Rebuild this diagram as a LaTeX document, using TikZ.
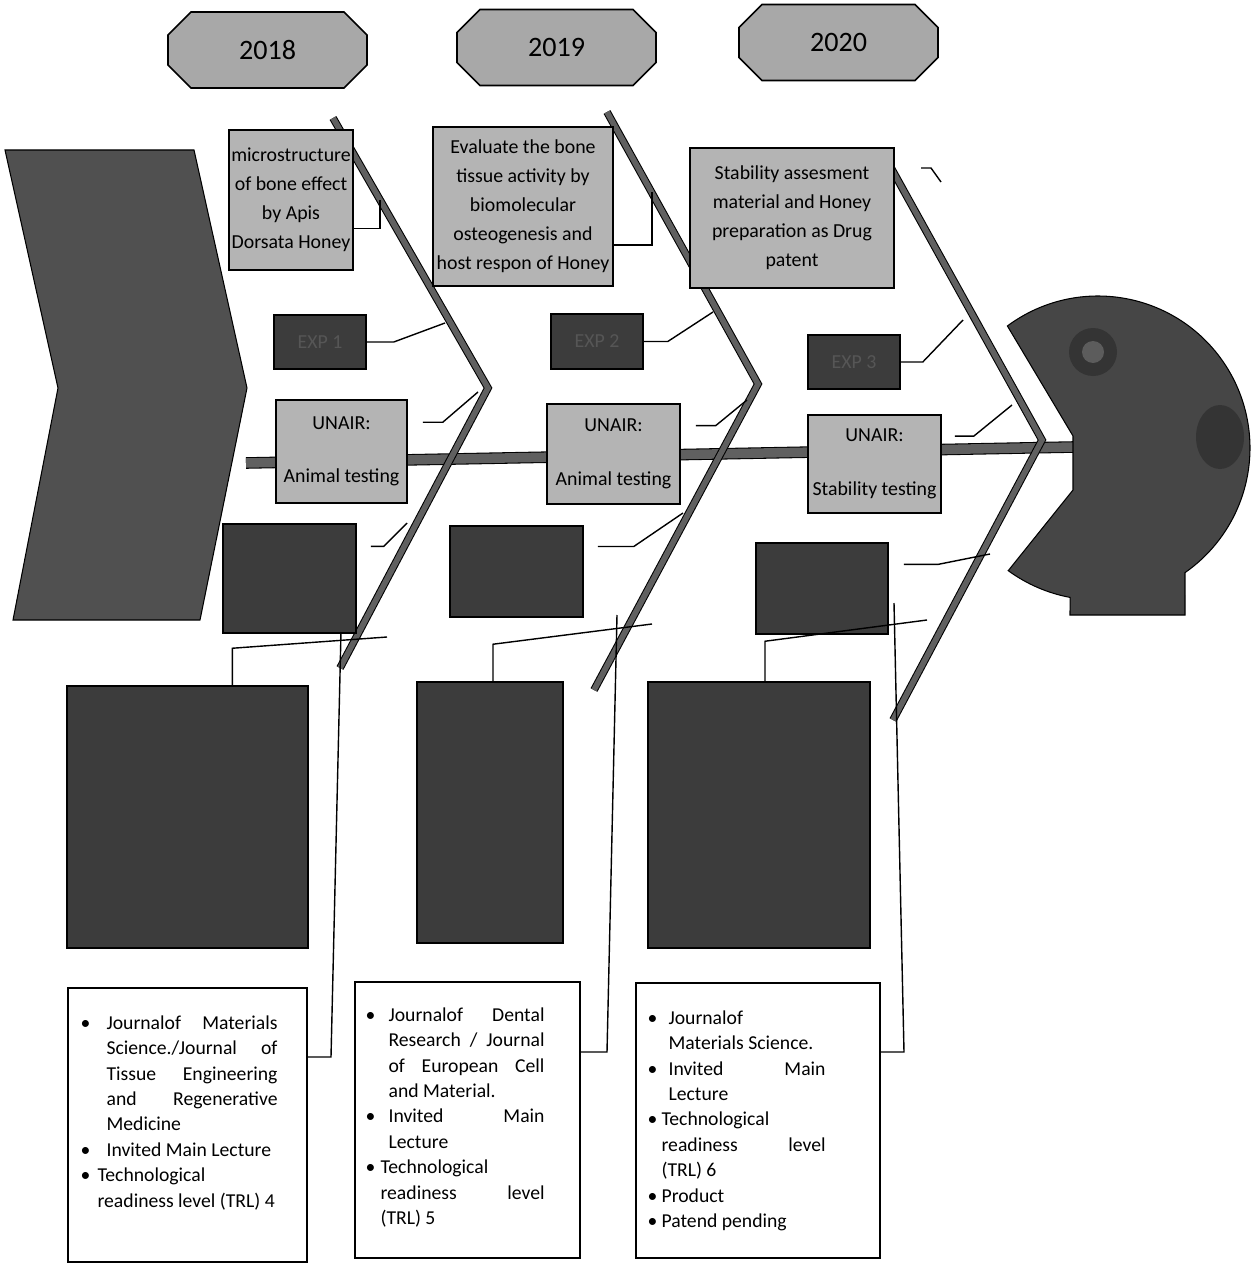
\documentclass[tikz,border=0pt]{standalone}
\usepackage{fontspec}
\setmainfont{Carlito}
\usepackage{xcolor}
\usetikzlibrary{calc}

\definecolor{yeargray}{RGB}{168,168,168}
\definecolor{boxgray}{RGB}{180,180,180}
\definecolor{darkfill}{RGB}{60,60,60}
\definecolor{darktext}{RGB}{86,86,86}
\definecolor{tailfill}{RGB}{80,80,80}
\definecolor{headfill}{RGB}{70,70,70}
\definecolor{headdark}{RGB}{52,52,52}
\definecolor{headring}{RGB}{92,92,92}
\definecolor{bonefill}{RGB}{96,96,96}

% one bullet of a result list: hanging indent, text
\newcommand{\litem}[2]{\par\noindent\hangindent=#1\hangafter=1\makebox[#1][l]{\textbullet}\ignorespaces#2}

\begin{document}
\begin{tikzpicture}[x=0.02cm, y=-0.02cm,
  yearoct/.style={fill=yeargray, draw=black, line width=0.9pt},
  yeartext/.style={inner sep=0pt, font=\fontsize{16}{19}\selectfont},
  graybox/.style={draw=black, line width=0.9pt, fill=boxgray, align=center, inner sep=1pt,
    font=\fontsize{11.3}{16.5}\selectfont},
  darkbox/.style={draw=black, line width=0.9pt, fill=darkfill, text=darktext, inner sep=1pt,
    font=\fontsize{11.3}{16.5}\selectfont},
  listbox/.style={draw=black, line width=0.9pt, fill=white},
  listtext/.style={anchor=north west, inner sep=0pt, align=justify, font=\fontsize{11.2}{14.5}\selectfont},
  bone/.style={line width=0.6pt, double=bonefill, double distance=3.2pt, line join=miter},
  spine/.style={line width=0.6pt, double=bonefill, double distance=5.4pt},
  link/.style={line width=0.8pt}
]
\useasboundingbox (0,0) rectangle (1253,1267);

% tail
\filldraw[fill=tailfill, draw=black, line width=0.6pt] (5,150) -- (194,150) -- (247,388) -- (200,620) -- (13,620) -- (58,388) -- cycle;

% spine
\coordinate (sp0) at (246,463);
\coordinate (sp1) at (1074,447);
\draw[spine] (sp0) -- (sp1);

% bones
\coordinate (t1) at (333,118);
\coordinate (k1) at (488,388);
\coordinate (b1) at (340,668);
\coordinate (t2) at (607,112);
\coordinate (k2) at (758,384);
\coordinate (b2) at (594,690);
\coordinate (t3) at (890,166);
\coordinate (k3) at (1042,440);
\coordinate (b3) at (893,720);
\draw[bone] (t1) -- (k1) -- (b1);
\draw[bone] (t2) -- (k2) -- (b2);
\draw[bone] (t3) -- (k3) -- (b3);

% years
\foreach \cx/\cy in {267.5/50, 556.5/47.5, 838.5/42.5}
  \filldraw[yearoct] ({\cx-76.5},{\cy-38}) -- ({\cx+76.5},{\cy-38}) -- ({\cx+99.5},{\cy-15}) -- ({\cx+99.5},{\cy+15})
    -- ({\cx+76.5},{\cy+38}) -- ({\cx-76.5},{\cy+38}) -- ({\cx-99.5},{\cy+15}) -- ({\cx-99.5},{\cy-15}) -- cycle;
\node[yeartext] (y18) at (267.5,50) {2018};
\node[yeartext] (y19) at (556.5,47.5) {2019};
\node[yeartext] (y20) at (838.5,42.5) {2020};

% aims
\node[graybox, minimum width=2.48cm, minimum height=2.8cm] (aim18) at (291,200) {microstructure\\of bone effect\\by Apis\\Dorsata Honey};
\node[graybox, minimum width=3.6cm, minimum height=3.18cm] (aim19) at (523,206.5) {Evaluate the bone\\tissue activity by\\biomolecular\\osteogenesis and\\host respon of Honey};
\node[graybox, minimum width=4.08cm, minimum height=2.8cm] (aim20) at (792,218) {Stability assesment\\material and Honey\\preparation as Drug\\patent};

% experiments
\node[darkbox, minimum width=1.84cm, minimum height=1.08cm] (exp1) at (320,342) {EXP 1};
\node[darkbox, minimum width=1.84cm, minimum height=1.1cm] (exp2) at (597,341.5) {EXP 2};
\node[darkbox, minimum width=1.84cm, minimum height=1.08cm] (exp3) at (854,362) {EXP 3};

% labs
\node[graybox, minimum width=2.62cm, minimum height=2.06cm] (lab18) at (341.5,451.5) {UNAIR:\\[14pt]Animal testing};
\node[graybox, minimum width=2.66cm, minimum height=2.0cm] (lab19) at (613.5,454) {UNAIR:\\[14pt]Animal testing};
\node[graybox, minimum width=2.66cm, minimum height=1.96cm] (lab20) at (874.5,464) {UNAIR:\\[14pt]Stability testing};

% dark middle boxes
\node[darkbox, minimum width=2.66cm, minimum height=2.18cm] (mid18) at (289.5,578.5) {};
\node[darkbox, minimum width=2.66cm, minimum height=1.82cm] (mid19) at (516.5,571.5) {};
\node[darkbox, minimum width=2.64cm, minimum height=1.82cm] (mid20) at (822,588.5) {};

% dark outcome boxes
\node[darkbox, minimum width=4.82cm, minimum height=5.24cm] (out18) at (187.5,817) {};
\node[darkbox, minimum width=2.92cm, minimum height=5.22cm] (out19) at (490,812.5) {};
\node[darkbox, minimum width=4.44cm, minimum height=5.32cm] (out20) at (759,815) {};

% results
\node[listbox, minimum width=4.78cm, minimum height=5.48cm] (res18) at (187.5,1125) {};
\node[listbox, minimum width=4.5cm, minimum height=5.52cm] (res19) at (467.5,1120) {};
\node[listbox, minimum width=4.88cm, minimum height=5.5cm] (res20) at (758,1120.5) {};

\node[listtext, text width=3.94cm] (txt18) at ($(res18.north west)+(13,16)$) {%
  \litem{0.52cm}{Journalof Materials\linebreak Science./Journal of\linebreak Tissue Engineering\linebreak and Regenerative\linebreak Medicine}
  \litem{0.52cm}{Invited Main Lecture}
  \litem{0.34cm}{Technological\newline readiness level (TRL) 4}\par};
\node[listtext, text width=3.58cm] (txt19) at ($(res19.north west)+(11,14)$) {%
  \litem{0.46cm}{Journalof Dental\linebreak Research / Journal\linebreak of European Cell\linebreak and Material.}
  \litem{0.46cm}{Invited Main\linebreak Lecture}
  \litem{0.3cm}{Technological\newline readiness level\linebreak (TRL) 5}\par};
\node[listtext, text width=3.56cm] (txt20) at ($(res20.north west)+(12,16)$) {%
  \litem{0.42cm}{Journalof\newline Materials Science.}
  \litem{0.42cm}{Invited Main\linebreak Lecture}
  \litem{0.28cm}{Technological\newline readiness level\linebreak (TRL) 6}
  \litem{0.28cm}{Product}
  \litem{0.28cm}{Patend pending}\par};

% head
\coordinate (hc) at (1098,448);
\filldraw[fill=headfill, draw=black, line width=0.6pt] ($(hc)+(-126.6:152)$) arc[start angle=-126.6, end angle=55.1, radius=152]
  -- (1185,615) -- (1070,615) -- ($(hc)+(100.6:152)$) arc[start angle=100.6, end angle=126.2, radius=152]
  -- (1073,490) -- (1073,436) -- cycle;
\fill[headdark] (1093,352) circle[radius=24];
\fill[headring] (1093,352) circle[radius=11];
\fill[headdark] (1220,437) ellipse[x radius=24, y radius=32];

% links to the bones
\coordinate (ja18) at (380,200);
\coordinate (ja19) at (652,192);
\coordinate (ja20a) at (921,168);
\coordinate (ja20b) at (941,182);
\draw[link] ($(aim18.north east)!0.7!(aim18.south east)$) -| (ja18);
\draw[link] ($(aim19.north east)!0.74!(aim19.south east)$) -| (ja19);
\draw[link] (ja20a) -- ++(10,0) -- (ja20b);

\coordinate (je18) at (445,323);
\coordinate (je19) at (713,312);
\coordinate (je20) at (963,320);
\draw[link] (exp1.east) -- ++(27,0) -- (je18);
\draw[link] (exp2.east) -- ++(24,0) -- (je19);
\draw[link] (exp3.east) -- ++(22,0) -- (je20);

\coordinate (jl18) at (478,392);
\coordinate (jl19) at (747,400);
\coordinate (jl20) at (1012,405);
\draw[link] ($(lab18.north east)!0.22!(lab18.south east)+(15,0)$) -- ++(20,0) -- (jl18);
\draw[link] ($(lab19.north east)!0.22!(lab19.south east)+(15,0)$) -- ++(20,0) -- (jl19);
\draw[link] ($(lab20.north east)!0.22!(lab20.south east)+(13,0)$) -- ++(19,0) -- (jl20);

\coordinate (jm18) at (407,523);
\coordinate (jm19) at (683,513);
\coordinate (jm20) at (990,554);
\draw[link] ($(mid18.north east)!0.21!(mid18.south east)+(14,0)$) -- ++(13,0) -- (jm18);
\draw[link] ($(mid19.north east)!0.23!(mid19.south east)+(14,0)$) -- ++(36,0) -- (jm19);
\draw[link] ($(mid20.north east)!0.24!(mid20.south east)+(15,0)$) -- ++(34,0) -- (jm20);

\coordinate (jo18) at (387,637);
\coordinate (jo19) at (652,624);
\coordinate (jo20) at (927,620);
\draw[link] ($(out18.north west)!0.685!(out18.north east)$) -- ++(0,-37) -- (jo18);
\draw[link] ($(out19.north west)!0.52!(out19.north east)$) -- ++(0,-37) -- (jo19);
\draw[link] ($(out20.north west)!0.527!(out20.north east)$) -- ++(0,-40) -- (jo20);

\coordinate (jr18) at (341,632);
\coordinate (kr18) at (331,1057);
\coordinate (jr19) at (617,615);
\coordinate (kr19) at (607,1052);
\coordinate (jr20) at (894,603);
\coordinate (kr20) at (904,1052);
\draw[link] (jr18) -- (kr18) -- (kr18 -| res18.east);
\draw[link] (jr19) -- (kr19) -- (kr19 -| res19.east);
\draw[link] (jr20) -- (kr20) -- (kr20 -| res20.east);
\end{tikzpicture}
\end{document}
